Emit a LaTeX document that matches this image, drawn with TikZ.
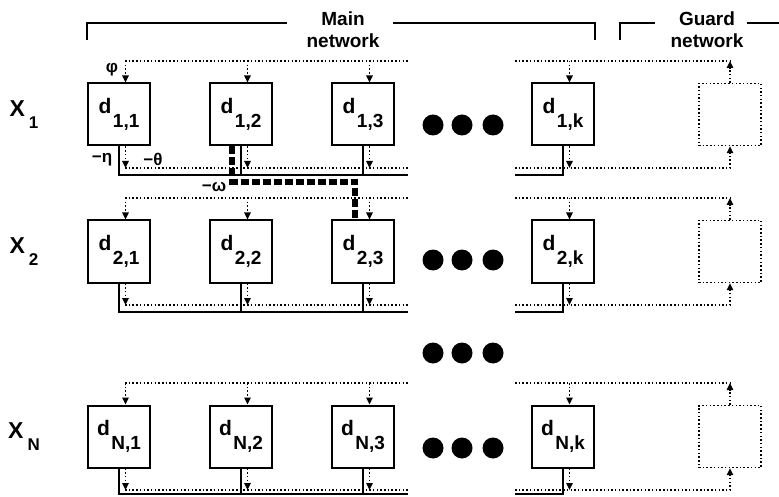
\documentclass[tikz,border=0pt]{standalone}
\usepackage{fontspec}
\setmainfont{Liberation Sans}
\usetikzlibrary{arrows.meta}

\newcommand\cellname[1]{d\kern1.5pt\raisebox{-14pt}{\fontsize{19}{19}\selectfont#1}}
\newcommand\rowname[1]{X\kern4pt\raisebox{-12pt}{\fontsize{17}{17}\selectfont#1}}

\begin{document}
\begin{tikzpicture}[x=1pt, y=-1pt,
  cell/.style={draw, line width=2pt, minimum size=62pt, inner sep=0pt,
    font=\bfseries\fontsize{21}{21}\selectfont},
  guardbox/.style={draw, line width=1.4pt, dash pattern=on 1.5pt off 2.2pt,
    minimum size=62pt, inner sep=0pt},
  bus/.style={line width=1.4pt, dash pattern=on 1.5pt off 2.2pt},
  sig/.style={bus, -{Triangle[length=7pt,width=6.5pt]}},
  inhib/.style={line width=2pt},
  cross/.style={line width=6pt, dash pattern=on 8pt off 3pt},
  title/.style={font=\bfseries\fontsize{19}{22}\selectfont, align=center},
  wt/.style={font=\bfseries\fontsize{17}{17}\selectfont, inner sep=0pt}
]
\useasboundingbox (0,0) rectangle (779,497);

% brackets over the two networks
\node[title] (main) at (343,30) {Main\\network};
\node[title] (guard) at (707,30) {Guard\\network};
\draw[inhib] (87,40) |- (287,23);
\draw[inhib] (393,23) -| (595,40);
\draw[inhib] (620,40) |- (655,23);
\draw[inhib] (747,23) -- (779,23);

% one row of cells per input
\foreach \r/\y/\sol in {1/114.5/175, 2/251.5/312, N/436.5/494} {
  \pgfmathsetmacro\top{\y-53.5}
  \pgfmathsetmacro\bot{\y+53.5}
  \node (x\r) at (24,\y) {\bfseries\fontsize{23}{23}\selectfont\rowname{\r}};
  \foreach \c/\x in {1/119, 2/241, 3/363, k/563}
    \node[cell] (d\r\c) at (\x,\y) {\cellname{\r,\c}};
  \node[guardbox] (g\r) at (730,\y) {};
  \coordinate (ta\r) at (125,\top);
  \coordinate (tb\r) at (408,\top);
  \coordinate (tc\r) at (515,\top);
  \coordinate (ba\r) at (125,\bot);
  \coordinate (bb\r) at (408,\bot);
  \coordinate (bc\r) at (515,\bot);
  \coordinate (sb\r) at (408,\sol);
  \coordinate (sc\r) at (515,\sol);
  % guard feedback
  \draw[bus] (ta\r) -- (tb\r);
  \draw[bus] (tc\r) -- (g\r.north |- tc\r);
  \draw[sig] (g\r.north) -- (g\r.north |- tc\r);
  \draw[bus] (ba\r) -- (bb\r);
  \draw[sig] (bc\r) -| (g\r.south);
  % lateral inhibition in the row
  \draw[inhib] (d\r1.south) |- (sb\r);
  \draw[inhib] (sc\r) -| (d\r k.south);
  \foreach \c in {1,2,3,k} {
    \draw[sig] ([xshift=6.5pt]d\r\c.north |- ta\r) -- ([xshift=6.5pt]d\r\c.north);
    \draw[sig] ([xshift=6.5pt]d\r\c.south) -- ([xshift=6.5pt]d\r\c.south |- ba\r);
  }
  \foreach \c in {2,3}
    \draw[inhib] (d\r\c.south) -- (d\r\c.south |- sb\r);
}

% ellipses
\foreach \y in {125,260,353,448}
  \foreach \x in {433,462,493}
    \fill (\x,\y) circle (10.5);

% cross-row connection
\coordinate (w) at (300,182);
\draw[cross] ([xshift=-9pt]d12.south) |- (w) -| ([xshift=-8pt]d23.north);

\node[wt] (phi) at (112,70) {φ};
\node[wt] (eta) at (102,160) {−η};
\node[wt] (theta) at (153,159) {−θ};
\node[wt] (omega) at (214,187) {−ω};

\end{tikzpicture}
\end{document}
